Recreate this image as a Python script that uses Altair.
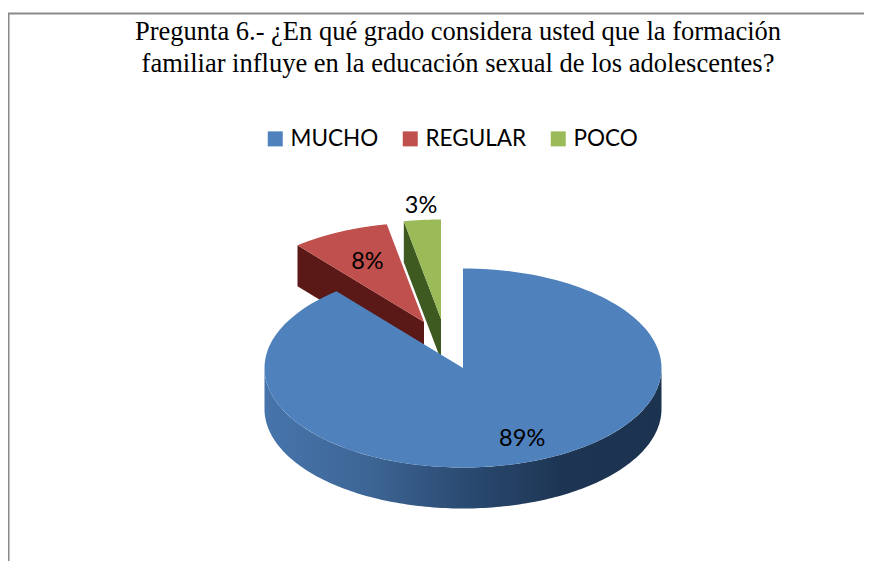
import numpy as np
import pandas as pd
import altair as alt

# ---- values ----
categories = ["MUCHO", "REGULAR", "POCO"]
values = [89, 8, 3]
labels = ["89%", "8%", "3%"]
colors = ["#4f81bd", "#c0504d", "#9bbb59"]
wall_colors = [None, "#5a1816", "#3f5a20"]
title_lines = [
    "Pregunta 6.- ¿En qué grado considera usted que la formación",
    "familiar  influye en la educación sexual de los adolescentes?",
]

# ---- 3-D pie projection (pixels of the picture) ----
CX, CY, RX, RY, DEPTH = 463.0, 368.0, 198.5, 99.5, 41.0
pivots = [(CX, CY), (424.0, 322.0), (441.0, 319.0)]
label_frac = [(0.88, 0.76), (0.67, 0.67), (1.07, 1.14)]
W, H = 856, 553

shares = np.array(values, dtype=float) / sum(values)
edges = np.concatenate([[0.0], np.cumsum(shares)]) * 2 * np.pi


def rim(px, py, a, drop=0.0):
    return px + RX * np.sin(a), py - RY * np.cos(a) + drop


def frame(name, xs, ys):
    return pd.DataFrame({"x": xs, "y": ys, "slice": name, "i": range(len(xs))})


tops, walls = [], {}
for k, name in enumerate(categories):
    px, py = pivots[k]
    a = np.linspace(edges[k], edges[k + 1], 160)
    rx_, ry_ = rim(px, py, a)
    tops.append(frame(name, np.r_[px, rx_], np.r_[py, ry_]))
    if k > 0:
        ox, oy = rim(px, py, edges[k])
        walls[k] = frame(name, [ox, px, px, ox], [oy, py, py + DEPTH, oy + DEPTH])
tops = pd.concat(tops)

front = np.linspace(np.pi / 2, 3 * np.pi / 2, 160)
fx, fy = rim(CX, CY, front)
bx, by = rim(CX, CY, front[::-1], DEPTH)
blue_wall = frame("wall", np.r_[fx, bx], np.r_[fy, by])

mids = (edges[:-1] + edges[1:]) / 2
label_df = pd.DataFrame(
    {
        "x": [pivots[k][0] + RX * label_frac[k][0] * np.sin(mids[k]) for k in range(3)],
        "y": [pivots[k][1] - RY * label_frac[k][1] * np.cos(mids[k]) for k in range(3)],
        "t": labels,
    }
)

xs = alt.Scale(domain=[8, 8 + W], nice=False, zero=False)
ys = alt.Scale(domain=[8 + H, 8], nice=False, zero=False)
X = alt.X("x:Q", scale=xs, axis=None)
Y = alt.Y("y:Q", scale=ys, axis=None)

wall_layers = [
    alt.Chart(walls[k])
    .mark_line(strokeWidth=0, fill=wall_colors[k])
    .encode(x=X, y=Y, order="i:Q")
    for k in (1, 2)
]

blue_wall_layer = (
    alt.Chart(blue_wall)
    .mark_line(
        strokeWidth=0,
        fill=alt.Gradient(
            gradient="linear", x1=0, x2=1, y1=0, y2=0,
            stops=[
                alt.GradientStop(color="#4674ab", offset=0),
                alt.GradientStop(color="#3e6797", offset=0.25),
                alt.GradientStop(color="#2b4b72", offset=0.5),
                alt.GradientStop(color="#1d3553", offset=0.75),
                alt.GradientStop(color="#1c3350", offset=1),
            ],
        ),
    )
    .encode(x=X, y=Y, order="i:Q")
)

top_layer = (
    alt.Chart(tops)
    .mark_line(strokeWidth=0)
    .encode(
        x=X, y=Y, order="i:Q", detail="slice:N",
        fill=alt.Fill(
            "slice:N",
            scale=alt.Scale(domain=categories, range=colors),
            legend=alt.Legend(
                title=None, orient="none", direction="horizontal",
                legendX=256, legendY=119.5, columns=3, padding=0,
                symbolType="square", symbolSize=225, symbolStrokeWidth=0,
                symbolOpacity=1, columnPadding=20, labelOffset=4,
                labelFont="Lato", labelFontSize=22.5, labelColor="#000000",
                labelLimit=300,
            ),
        ),
    )
)

text_layer = (
    alt.Chart(label_df)
    .mark_text(font="Lato", fontSize=23.5, color="#000000", align="center", baseline="middle")
    .encode(x=X, y=Y, text="t:N")
)

border_left = alt.Chart(pd.DataFrame({"a": [0]})).mark_rule(color="#8a8a8a", strokeWidth=2).encode(
    x=alt.value(0.5), y=alt.value(5), y2=alt.value(H)
)
border_top = alt.Chart(pd.DataFrame({"a": [0]})).mark_rule(color="#8a8a8a", strokeWidth=2).encode(
    x=alt.value(0), x2=alt.value(W), y=alt.value(5.5)
)

chart = (
    alt.layer(*wall_layers, blue_wall_layer, top_layer, text_layer, border_left, border_top)
    .properties(
        width=W,
        height=H,
        padding=0,
        autosize=alt.AutoSizeParams(type="none"),
        background="white",
        title=alt.TitleParams(
            text=title_lines,
            font="Liberation Serif",
            fontSize=26.5,
            fontWeight="normal",
            color="#000000",
            lineHeight=32,
            anchor="middle",
            frame="group",
            baseline="top",
            orient="top",
            offset=0,
            dx=22,
            dy=69.5,
        ),
    )
    .configure_view(stroke=None)
)

chart.save("out.html", embed_options={"renderer": "svg", "actions": False})
